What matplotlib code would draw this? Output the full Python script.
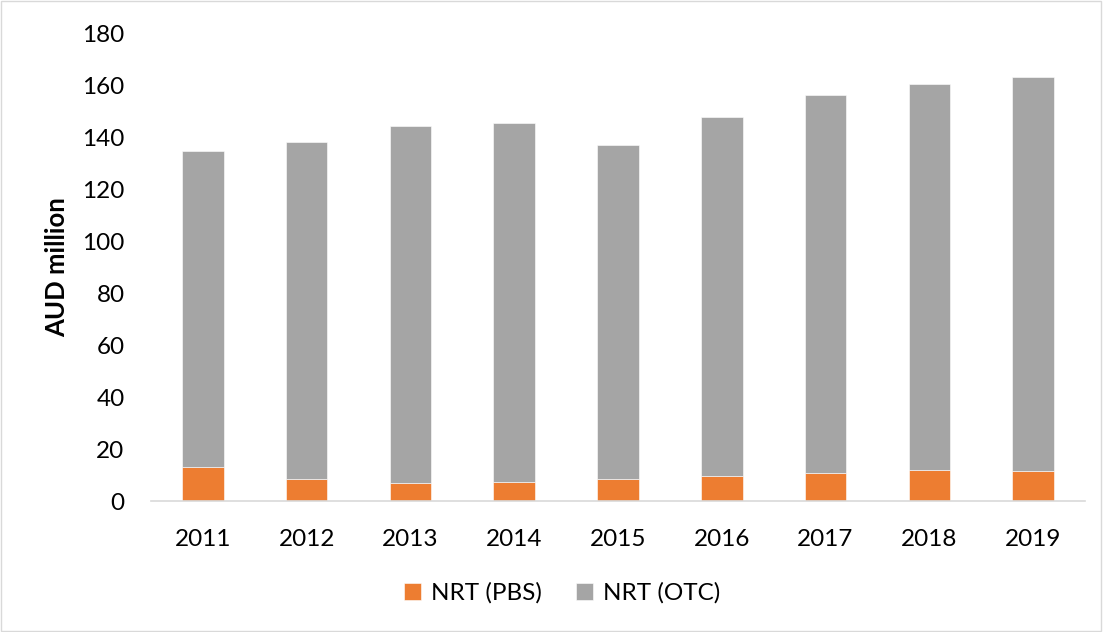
import numpy as np
import matplotlib.pyplot as plt
from matplotlib.patches import Rectangle

plt.rcParams['font.family'] = ['Lato', 'DejaVu Sans']

# data
years = ['2011', '2012', '2013', '2014', '2015', '2016', '2017', '2018', '2019']
nrt_pbs = [13.2, 8.4, 7.1, 7.4, 8.4, 9.8, 10.7, 11.8, 11.6]
totals = [135.0, 138.5, 144.6, 145.7, 137.2, 147.9, 156.4, 160.8, 163.6]
nrt_otc = [t - p for t, p in zip(totals, nrt_pbs)]

orange = '#ED7D31'
grey = '#A5A5A5'

fig = plt.figure(figsize=(11.03, 6.32), dpi=100)
ax = fig.add_axes([151 / 1103, 1 - 501 / 632, (1085 - 151) / 1103, (501 - 34) / 632])

x = np.arange(len(years))
ax.bar(x, nrt_pbs, width=0.4, color=orange, label='NRT (PBS)',
       edgecolor='white', linewidth=0.4)
ax.bar(x, nrt_otc, width=0.4, bottom=nrt_pbs, color=grey, label='NRT (OTC)',
       edgecolor='white', linewidth=0.4)

ax.set_xlim(-0.5, len(years) - 0.5)
ax.set_ylim(0, 180)
ax.set_yticks(range(0, 181, 20))
ax.set_xticks(x)
ax.set_xticklabels(years)

for side in ['left', 'right', 'top']:
    ax.spines[side].set_visible(False)
ax.spines['bottom'].set_color('#D9D9D9')
ax.spines['bottom'].set_linewidth(1.2)
ax.tick_params(axis='both', length=0, labelsize=17.5, colors='black')
ax.tick_params(axis='y', pad=19)
ax.tick_params(axis='x', pad=20)

ax.set_ylabel('AUD million', fontsize=18.5, fontweight='bold')
ax.yaxis.set_label_coords(-0.088, 0.5)

fig.legend(loc='center', bbox_to_anchor=(562 / 1103, 1 - 593 / 632), ncol=2,
           frameon=False, fontsize=17.5, handlelength=0.7, handleheight=0.7,
           handletextpad=0.4, columnspacing=1.4)

# thin frame around the whole chart
fig.patches.append(Rectangle((0.001, 0.002), 0.997, 0.996, transform=fig.transFigure,
                             fill=False, edgecolor='#D9D9D9', linewidth=1))

fig.savefig('out.png', dpi=100)
